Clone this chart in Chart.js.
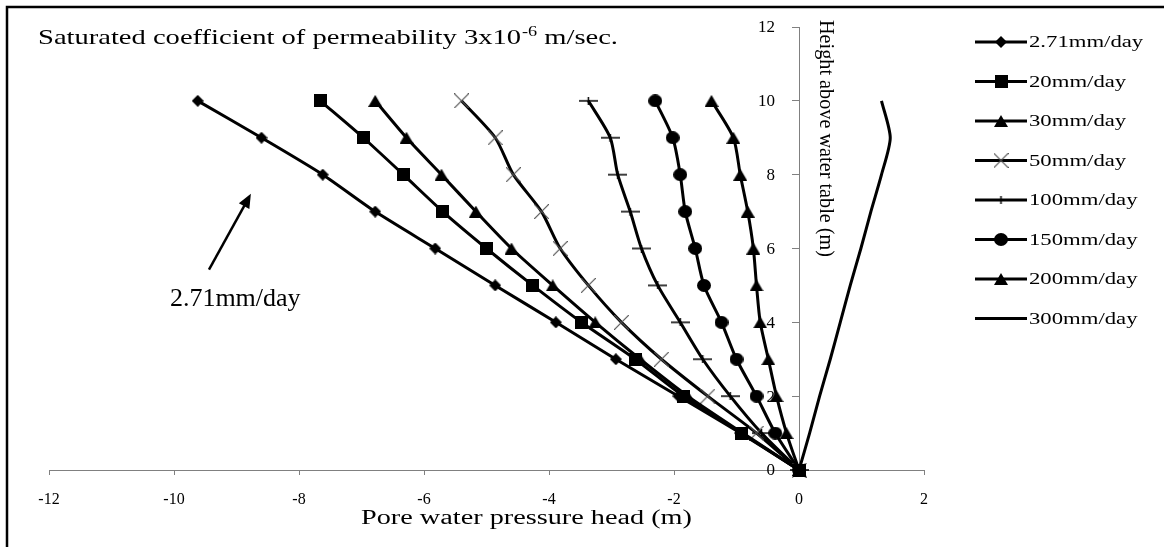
<!DOCTYPE html>
<html>
<head>
<meta charset="utf-8">
<script src="https://cdn.jsdelivr.net/npm/chart.js@4/dist/chart.umd.min.js"></script>
<style>
html, body { margin: 0; padding: 0; background: #fff; }
#wrap { width: 1164px; height: 547px; position: relative; }
</style>
</head>
<body>
<div id="wrap"><canvas id="chart" width="1164" height="547"></canvas></div>
<script>
// height above water table (m), same for every series
var heights = [0, 1, 2, 3, 4, 5, 6, 7, 8, 9, 10];

// pore water pressure head (m), one value per height
var head271 = [0, -0.94, -1.93, -2.93, -3.89, -4.86, -5.82, -6.78, -7.62, -8.6, -9.62];
var head20 = [0, -0.92, -1.85, -2.62, -3.48, -4.26, -5.0, -5.7, -6.33, -6.97, -7.66];
var head30 = [0, -0.9, -1.78, -2.54, -3.26, -3.94, -4.6, -5.17, -5.72, -6.28, -6.78];
var head50 = [0, -0.68, -1.46, -2.2, -2.84, -3.37, -3.82, -4.12, -4.57, -4.86, -5.4];
var head100 = [0, -0.6, -1.1, -1.54, -1.9, -2.26, -2.52, -2.7, -2.9, -3.02, -3.37];
var head150 = [0, -0.38, -0.68, -1.0, -1.24, -1.52, -1.66, -1.82, -1.9, -2.02, -2.3];
var head200 = [0, -0.2, -0.36, -0.49, -0.62, -0.68, -0.73, -0.82, -0.94, -1.05, -1.4];
var head300 = [0, 0.17, 0.33, 0.5, 0.66, 0.82, 0.99, 1.15, 1.32, 1.46, 1.32];

var seriesNames = ['2.71mm/day', '20mm/day', '30mm/day', '50mm/day', '100mm/day', '150mm/day', '200mm/day', '300mm/day'];
var seriesHeads = [head271, head20, head30, head50, head100, head150, head200, head300];
var seriesMarkers = ['diamond', 'square', 'triangle', 'xcross', 'plus', 'circle', 'triangle', 'none'];

var xTicks = { min: -12, max: 2, step: 2 };
var yTicks = { min: 0, max: 12, step: 2 };

// arrow note pointing at the 2.71mm/day curve (data coordinates)
var noteText = '2.71mm/day';
var noteAt = { x: -9.02, y: 4.45 };
var arrowFrom = { x: -9.44, y: 5.43 };
var arrowTo = { x: -8.77, y: 7.48 };

var serif = '"Liberation Serif", "Times New Roman", serif';

function makeMarker(kind) {
    var c = document.createElement('canvas');
    var g;
    if (kind == 'diamond') {
        c.width = 12; c.height = 12;
        g = c.getContext('2d');
        g.fillStyle = '#000';
        g.beginPath(); g.moveTo(6, 0); g.lineTo(12, 6); g.lineTo(6, 12); g.lineTo(0, 6); g.closePath(); g.fill();
    } else if (kind == 'square') {
        c.width = 13; c.height = 13;
        g = c.getContext('2d');
        g.fillStyle = '#000';
        g.fillRect(0, 0, 13, 13);
    } else if (kind == 'triangle') {
        c.width = 14; c.height = 12;
        g = c.getContext('2d');
        g.fillStyle = '#000';
        g.beginPath(); g.moveTo(7, 0); g.lineTo(14, 12); g.lineTo(0, 12); g.closePath(); g.fill();
    } else if (kind == 'circle') {
        c.width = 14; c.height = 13;
        g = c.getContext('2d');
        g.fillStyle = '#000';
        g.beginPath(); g.ellipse(7, 6.5, 7, 6.5, 0, 0, Math.PI * 2); g.fill();
    } else if (kind == 'xcross') {
        c.width = 15; c.height = 15;
        g = c.getContext('2d');
        g.strokeStyle = '#555'; g.lineWidth = 1.2;
        g.beginPath(); g.moveTo(0, 0); g.lineTo(15, 15); g.moveTo(15, 0); g.lineTo(0, 15); g.stroke();
    } else if (kind == 'plus') {
        c.width = 19; c.height = 8;
        g = c.getContext('2d');
        g.strokeStyle = '#000'; g.lineWidth = 1.5;
        g.beginPath(); g.moveTo(0, 4); g.lineTo(19, 4); g.moveTo(9.5, 0); g.lineTo(9.5, 8); g.stroke();
    } else {
        c.width = 1; c.height = 1;
    }
    return c;
}

var markerImages = seriesMarkers.map(makeMarker);

var datasets = seriesNames.map(function(name, i) {
    var pts = seriesHeads[i].map(function(v, k) { return { x: v, y: heights[k] }; });
    return {
        label: name,
        data: pts,
        borderColor: '#000',
        backgroundColor: '#000',
        borderWidth: 3,
        tension: 0.25,
        pointStyle: markerImages[i],
        pointRadius: seriesMarkers[i] == 'none' ? 0 : 6,
        pointHoverRadius: 6,
        clip: false
    };
});

function stretchText(ctx, text, x, y, size, sx) {
    ctx.save();
    ctx.font = size + 'px ' + serif;
    ctx.textAlign = 'left';
    ctx.textBaseline = 'alphabetic';
    ctx.translate(x, y);
    ctx.scale(sx, 1);
    ctx.fillText(text, 0, 0);
    var w = ctx.measureText(text).width * sx;
    ctx.restore();
    return x + w;
}

function naturalWidth(ctx, text, size) {
    ctx.save();
    ctx.font = size + 'px ' + serif;
    var w = ctx.measureText(text).width;
    ctx.restore();
    return w;
}

var decor = {
    id: 'decor',
    afterDraw: function(chart) {
        var ctx = chart.ctx;
        var xs = chart.scales.x, ys = chart.scales.y;
        ctx.save();
        ctx.fillStyle = '#000';

        // outer frame (cut off on right and bottom like the original)
        ctx.strokeStyle = '#000';
        ctx.lineWidth = 2.5;
        ctx.strokeRect(7, 7, 1170, 560);

        // tick labels: y left of the axis at x = 0, x under the bottom axis
        var axisX = xs.getPixelForValue(0);
        ctx.font = '17px ' + serif;
        ctx.textAlign = 'right';
        ctx.textBaseline = 'middle';
        ys.ticks.forEach(function(t) {
            ctx.fillText(String(t.value), axisX - 24, ys.getPixelForValue(t.value) + 1);
        });
        ctx.font = '16px ' + serif;
        ctx.textAlign = 'center';
        ctx.textBaseline = 'alphabetic';
        xs.ticks.forEach(function(t) {
            ctx.fillText(String(t.value), xs.getPixelForValue(t.value), 504);
        });

        // heading with superscript
        var t1 = 'Saturated coefficient of permeability 3x10', t2 = '-6', t3 = ' m/sec.';
        var nat = naturalWidth(ctx, t1, 22) + naturalWidth(ctx, t2, 14) + naturalWidth(ctx, t3, 22);
        var sx = 579 / nat;
        var cx = stretchText(ctx, t1, 38, 44, 22, sx);
        cx = stretchText(ctx, t2, cx + 1, 36, 14, sx);
        stretchText(ctx, t3, cx, 44, 22, sx);

        // x axis title
        var xt = 'Pore water pressure head (m)';
        stretchText(ctx, xt, 361, 524, 20, 331 / naturalWidth(ctx, xt, 20));

        // y axis title, reads top to bottom right of the axis
        var yt = 'Height above water table (m)';
        ctx.save();
        ctx.translate(axisX + 21, 20);
        ctx.rotate(Math.PI / 2);
        ctx.scale(237 / naturalWidth(ctx, yt, 21), 1);
        ctx.font = '21px ' + serif;
        ctx.textAlign = 'left';
        ctx.textBaseline = 'alphabetic';
        ctx.fillText(yt, 0, 0);
        ctx.restore();

        // arrow note
        var ax0 = xs.getPixelForValue(arrowFrom.x), ay0 = ys.getPixelForValue(arrowFrom.y);
        var ax1 = xs.getPixelForValue(arrowTo.x), ay1 = ys.getPixelForValue(arrowTo.y);
        var ang = Math.atan2(ay1 - ay0, ax1 - ax0);
        ctx.lineWidth = 2.5;
        ctx.beginPath();
        ctx.moveTo(ax0, ay0);
        ctx.lineTo(ax1 - 10 * Math.cos(ang), ay1 - 10 * Math.sin(ang));
        ctx.stroke();
        ctx.beginPath();
        ctx.moveTo(ax1, ay1);
        ctx.lineTo(ax1 - 14 * Math.cos(ang) + 6 * Math.sin(ang), ay1 - 14 * Math.sin(ang) - 6 * Math.cos(ang));
        ctx.lineTo(ax1 - 14 * Math.cos(ang) - 6 * Math.sin(ang), ay1 - 14 * Math.sin(ang) + 6 * Math.cos(ang));
        ctx.closePath();
        ctx.fill();
        ctx.font = '26px ' + serif;
        ctx.textAlign = 'center';
        ctx.textBaseline = 'alphabetic';
        ctx.fillText(noteText, xs.getPixelForValue(noteAt.x), ys.getPixelForValue(noteAt.y));

        // legend: line with marker, then label
        for (var i = 0; i < seriesNames.length; i++) {
            var ly = 42 + i * 39.5;
            ctx.lineWidth = 3;
            ctx.beginPath();
            ctx.moveTo(975, ly);
            ctx.lineTo(1027, ly);
            ctx.stroke();
            var m = markerImages[i];
            if (seriesMarkers[i] != 'none') ctx.drawImage(m, 1001 - m.width / 2, ly - m.height / 2);
            stretchText(ctx, seriesNames[i], 1029, ly + 5, 16, 1.42);
        }
        ctx.restore();
    }
};

var ctx = document.getElementById('chart').getContext('2d');
var chart = new Chart(ctx, {
    type: 'line',
    data: { datasets: datasets },
    options: {
        responsive: false,
        animation: false,
        devicePixelRatio: 1,
        layout: { padding: { left: 49, right: 240, top: 27, bottom: 0 } },
        plugins: {
            legend: { display: false },
            title: { display: false },
            tooltip: { enabled: false }
        },
        scales: {
            x: {
                type: 'linear',
                position: 'bottom',
                min: xTicks.min,
                max: xTicks.max,
                afterFit: function(s) { s.height = 77; },
                ticks: { stepSize: xTicks.step, display: false },
                grid: { drawOnChartArea: false, drawTicks: true, tickLength: 5, color: '#808080' },
                border: { color: '#808080', width: 1 }
            },
            y: {
                type: 'linear',
                position: { x: 0 },
                min: yTicks.min,
                max: yTicks.max,
                afterFit: function(s) { s.width = 0; },
                ticks: { stepSize: yTicks.step, display: false },
                grid: { drawOnChartArea: false, drawTicks: true, tickLength: 7, color: '#808080' },
                border: { color: '#808080', width: 1 }
            }
        }
    },
    plugins: [decor]
});
</script>
</body>
</html>
